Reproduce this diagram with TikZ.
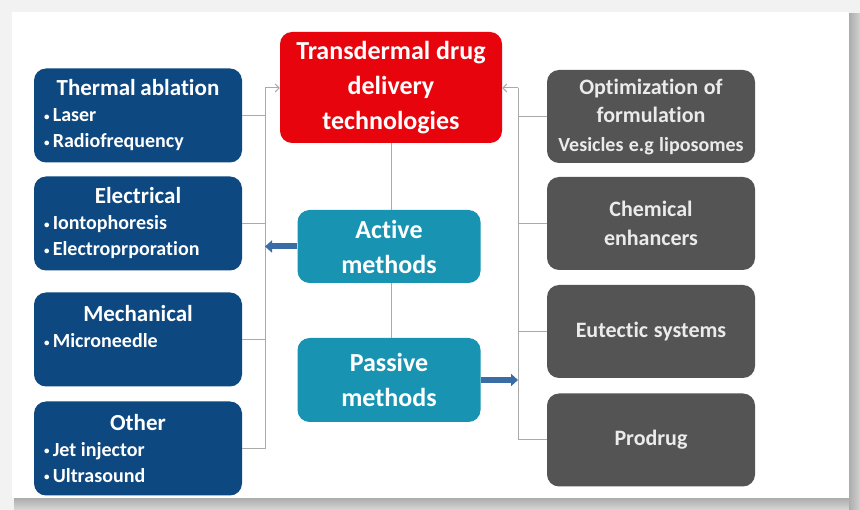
\documentclass[tikz,border=0pt]{standalone}
\usepackage{fontspec}
\setmainfont{Carlito}[Ligatures=NoCommon]
\usetikzlibrary{arrows.meta}

\definecolor{techred}{RGB}{232,4,12}
\definecolor{actblue}{RGB}{14,72,128}
\definecolor{methteal}{RGB}{24,148,178}
\definecolor{passgray}{RGB}{84,84,84}
\definecolor{linegray}{RGB}{170,170,170}
\definecolor{arrowblue}{RGB}{58,108,165}

\newcommand{\boxhead}[1]{\hfill{\fontsize{23}{26}\selectfont #1}\hfill\mbox{}}
\newcommand{\bul}{\raisebox{1.5pt}{\fontsize{11}{11}\selectfont•}\,}

\begin{document}
\begin{tikzpicture}[x=1pt, y=-1pt,
  every node/.style={rounded corners=12pt, text=white, inner sep=0pt,
    execute at begin node={\spaceskip=0.23em plus 0.05em minus 0.05em\relax}},
  activebox/.style={fill=actblue, minimum width=208pt, minimum height=94pt, text width=188pt, align=left, font=\bfseries\fontsize{20}{26}\selectfont},
  passivebox/.style={fill=passgray, minimum width=208pt, minimum height=93pt, text width=204pt, align=center, font=\bfseries\fontsize{22}{28.5}\selectfont, text=white!92!black},
  methodbox/.style={fill=methteal, minimum width=183pt, align=center, font=\bfseries\fontsize{26}{35}\selectfont},
  bus/.style={draw=linegray, line width=1pt},
  fatarrow/.style={draw=arrowblue, line width=6pt, -{Triangle[length=7pt, width=12pt]}}]

\useasboundingbox (0,0) rectangle (860,510);

% Card and shadow
\fill[gray!10] (0,0) rectangle (860,510);
\shade[top color=gray!65, bottom color=gray!30] (14,498) rectangle (860,510);
\shade[left color=gray!65, right color=gray!35] (849,14) rectangle (860,510);
\fill[white] (12,12) rectangle (849,498);

% Main box
\node[fill=techred, minimum width=222pt, minimum height=111pt, align=center,
      font=\bfseries\fontsize{26}{35}\selectfont] (tdd) at (391,87.5)
    {Transdermal drug\\ delivery\\ technologies};

% Active and passive
\node[methodbox, minimum height=73pt] (active) at (389,246.5) {Active\\ methods};
\node[methodbox, minimum height=84pt] (passive) at (389,380) {Passive\\ methods};

% Left boxes
\node[activebox] (thermal) at (138,115.5)
    {\boxhead{Thermal ablation}\\ \bul Laser\\ \bul Radiofrequency};
\node[activebox] (electrical) at (138,223.5)
    {\boxhead{Electrical}\\ \bul Iontophoresis\\ \bul Electroprporation};
\node[activebox] (mechanical) at (138,339.5)
    {\boxhead{Mechanical}\\ \bul Microneedle\\ \mbox{}};
\node[activebox] (other) at (138,448.5)
    {\boxhead{Other}\\ \bul Jet injector\\ \bul Ultrasound};

% Right boxes
\node[passivebox] (optim) at (651,116.5)
    {Optimization of\\ formulation\\ {\fontsize{20}{28.5}\selectfont Vesicles e.g liposomes}};
\node[passivebox] (chemical) at (651,223.5) {Chemical\\ enhancers};
\node[passivebox] (eutectic) at (651,331.5) {Eutectic systems};
\node[passivebox] (prodrug) at (651,440) {Prodrug};

% Bus lines
\coordinate (lbus) at (265,88);
\coordinate (rbus) at (518,88);

\foreach \n in {thermal,electrical,mechanical,other}
  \draw[bus] (lbus) |- (\n.east);
\foreach \n in {optim,chemical,eutectic,prodrug}
  \draw[bus] (rbus) |- (\n.west);
\draw[bus, -{Straight Barb[length=4pt]}] (lbus) -- (tdd.west |- lbus);
\draw[bus, -{Straight Barb[length=4pt]}] (rbus) -- (tdd.east |- rbus);

\draw[bus] (tdd.south) -- (tdd.south |- active.north);
\draw[bus] (active.south -| tdd.south) -- (passive.north -| tdd.south);

% Thick arrows
\draw[fatarrow] (active.west) -- (active.west -| lbus);
\draw[fatarrow] (passive.east) -- (passive.east -| rbus);

\end{tikzpicture}
\end{document}
